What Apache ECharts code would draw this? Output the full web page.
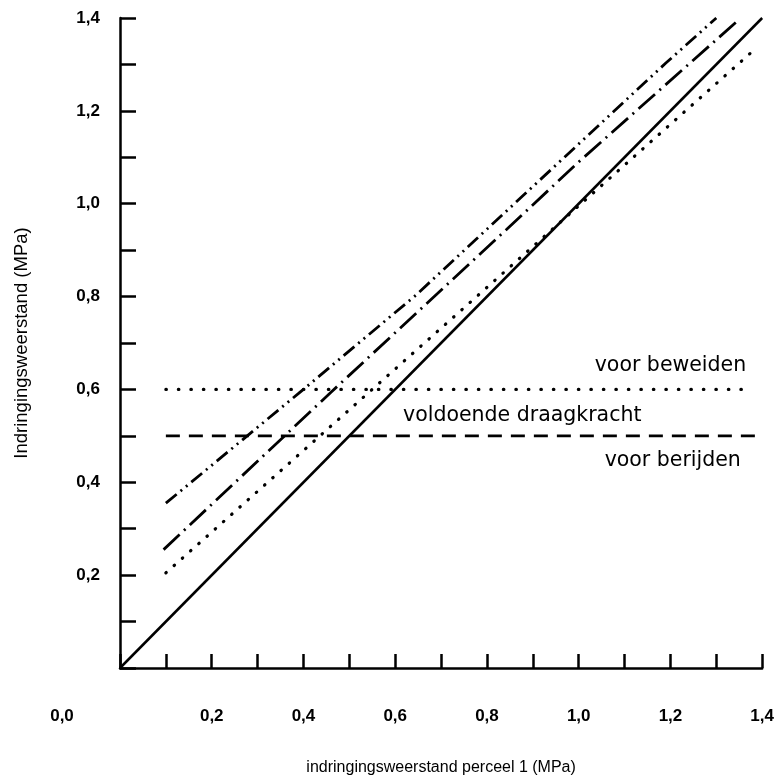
<!DOCTYPE html>
<html>
<head>
<meta charset="utf-8">
<script src="https://cdn.jsdelivr.net/npm/echarts@6/dist/echarts.min.js"></script>
<style>html,body{margin:0;padding:0;background:#fff}#c{width:777px;height:782px}</style>
</head>
<body>
<div id="c"></div>
<script>
// Axis ticks (MPa)
const axisMin = 0, axisMax = 1.4, tickStep = 0.1;
// Solid 1:1 line
const solidX = [0, 1.4];
const solidY = [0, 1.4];
// Dotted regression line
const dottedX = [0.1, 1.39];
const dottedY = [0.205, 1.338];
// Dash-dot regression line
const dashDotX = [0.095, 0.46, 0.842, 1.0, 1.35];
const dashDotY = [0.255, 0.594, 0.944, 1.09, 1.397];
// Dash-dot-dot regression line
const dashDotDotX = [0.1, 0.39, 0.645, 1.19, 1.3];
const dashDotDotY = [0.355, 0.592, 0.803, 1.303, 1.40];
// Threshold lines
const grazingX = [0.1, 1.36];
const grazingY = [0.6, 0.6];
const drivingX = [0.1, 1.4];
const drivingY = [0.5, 0.5];
const labels = ['voor beweiden', 'voldoende draagkracht', 'voor berijden'];

const zip = (xs, ys) => xs.map((x, i) => [x, ys[i]]);
const fmt = v => {
  const t = Math.round(v * 10);
  if (t === 0 || t % 2 !== 0) return '';
  return (t / 10).toFixed(1).replace('.', ',');
};
const labelFont = { color: '#000', fontFamily: 'Liberation Sans', fontSize: 17, fontWeight: 'bold' };

const chart = echarts.init(document.getElementById('c'));
const lineSeries = (data, width, type, cap) => ({
  type: 'line', data, symbol: 'none', silent: true, animation: false,
  lineStyle: { color: '#000', width, type, cap: cap || 'butt' }
});

chart.setOption({
  animation: false,
  backgroundColor: '#fff',
  grid: { left: 120, right: 9, top: 18, bottom: 114 },
  xAxis: {
    type: 'value', min: axisMin, max: axisMax, interval: tickStep,
    axisLine: { lineStyle: { color: '#000', width: 2.5 } },
    axisTick: { inside: true, length: 14, lineStyle: { color: '#000', width: 2.5 } },
    axisLabel: Object.assign({ formatter: fmt, margin: 40, showMinLabel: true }, labelFont),
    splitLine: { show: false },
    name: 'indringingsweerstand perceel 1 (MPa)', nameLocation: 'middle', nameGap: 92,
    nameTextStyle: { color: '#000', fontFamily: 'Liberation Sans', fontSize: 16 }
  },
  yAxis: {
    type: 'value', min: axisMin, max: axisMax, interval: tickStep,
    axisLine: { lineStyle: { color: '#000', width: 2.5 } },
    axisTick: { inside: true, length: 16, lineStyle: { color: '#000', width: 2.5 } },
    axisLabel: Object.assign({ formatter: fmt, margin: 20 }, labelFont),
    splitLine: { show: false },
    name: 'Indringingsweerstand (MPa)', nameLocation: 'middle', nameGap: 89, nameRotate: 90,
    nameTextStyle: { color: '#000', fontFamily: 'Liberation Sans', fontSize: 18.5 }
  },
  series: [
    lineSeries(zip(solidX, solidY), 2.5),
    lineSeries(zip(dottedX, dottedY), 3.2, [0.5, 10.5], 'round'),
    lineSeries(zip(dashDotX, dashDotY), 2.8, [22, 6, 2, 6]),
    lineSeries(zip(dashDotDotX, dashDotDotY), 2.8, [14, 5, 2, 5, 2, 5]),
    lineSeries(zip(grazingX, grazingY), 3.2, [0.5, 12], 'round'),
    lineSeries(zip(drivingX, drivingY), 2.8, [14, 9])
  ]
});

const px = (x, y) => chart.convertToPixel({ gridIndex: 0 }, [x, y]);
const textFont = { fill: '#000', fontFamily: 'DejaVu Sans', fontSize: 20.5, textAlign: 'center', textVerticalAlign: 'middle' };
const p1 = px(1.2, 0.651), p2 = px(0.877, 0.543), p3 = px(1.205, 0.446);
const o = px(0, 0);
chart.setOption({
  graphic: [
    { type: 'text', x: p1[0], y: p1[1], style: Object.assign({ text: labels[0] }, textFont) },
    { type: 'text', x: p2[0], y: p2[1], style: Object.assign({ text: labels[1] }, textFont) },
    { type: 'text', x: p3[0], y: p3[1], style: Object.assign({ text: labels[2] }, textFont) },
    { type: 'text', x: o[0] - 58, y: o[1] + 48, style: { text: '0,0', fill: '#000', font: 'bold 17px "Liberation Sans"', textAlign: 'center', textVerticalAlign: 'middle' } }
  ]
});
</script>
</body>
</html>
